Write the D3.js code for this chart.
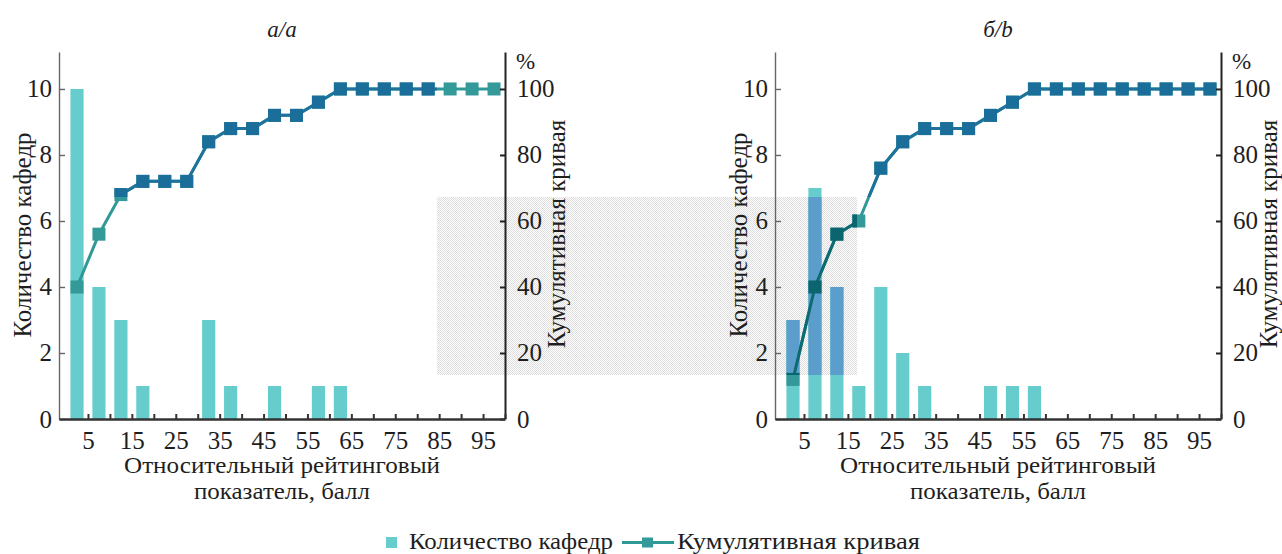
<!DOCTYPE html>
<html>
<head>
<meta charset="utf-8">
<script src="https://cdn.jsdelivr.net/npm/d3@7"></script>
<style>
  body { margin: 0; background: #fff; }
  svg { display: block; }
  text { font-family: "Liberation Serif", serif; fill: #1e1e1e; }
</style>
</head>
<body>
<svg id="chart" width="1282" height="554"></svg>
<script>
// rating bins (centres, 5-point wide) and axis ticks
const bins = [2.5, 7.5, 12.5, 17.5, 22.5, 27.5, 32.5, 37.5, 42.5, 47.5,
              52.5, 57.5, 62.5, 67.5, 72.5, 77.5, 82.5, 87.5, 92.5, 97.5];
const xTicks = [5, 10, 15, 20, 25, 30, 35, 40, 45, 50, 55, 60, 65, 70, 75, 80, 85, 90, 95, 100];
const xLabels = [5, 15, 25, 35, 45, 55, 65, 75, 85, 95];
const countTicks = [0, 2, 4, 6, 8, 10];
const pctTicks = [0, 20, 40, 60, 80, 100];

// panel a
const countsA = [10, 4, 3, 1, 0, 0, 3, 1, 0, 1, 0, 1, 1, 0, 0, 0, 0, 0, 0, 0];
const cumulA  = [40, 56, 68, 72, 72, 72, 84, 88, 88, 92, 92, 96, 100, 100, 100, 100, 100, 100, 100, 100];
// panel b
const countsB = [3, 7, 4, 1, 4, 2, 1, 0, 0, 1, 1, 1, 0, 0, 0, 0, 0, 0, 0, 0];
const cumulB  = [12, 40, 56, 60, 76, 84, 88, 88, 88, 92, 96, 100, 100, 100, 100, 100, 100, 100, 100, 100];

const titles = ["а/a", "б/b"];
const yTitle = "Количество кафедр";
const y2Title = "Кумулятивная кривая";
const xTitle = ["Относительный рейтинговый", "показатель, балл"];

const svg = d3.select("#chart");
const FONT = "Liberation Serif";

// the scan has a selection tint over part of the page
const defs = svg.append("defs");
const pat = defs.append("pattern").attr("id", "dots")
  .attr("width", 2).attr("height", 2).attr("patternUnits", "userSpaceOnUse");
pat.append("rect").attr("width", 2).attr("height", 2).attr("fill", "#fff");
pat.append("rect").attr("width", 1).attr("height", 1).attr("fill", "#dcdcdc");
pat.append("rect").attr("x", 1).attr("y", 1).attr("width", 1).attr("height", 1).attr("fill", "#dcdcdc");

const topCp = defs.append("clipPath").attr("id", "hiTop");
topCp.append("rect").attr("x", 84).attr("y", 0).attr("width", 437 - 84).attr("height", 197);
topCp.append("rect").attr("x", 857).attr("y", 0).attr("width", 1282 - 857).attr("height", 197);
const midCp = defs.append("clipPath").attr("id", "hiMid");
midCp.append("rect").attr("x", 437).attr("y", 197).attr("width", 857 - 437).attr("height", 375 - 197);

svg.append("rect").attr("x", 437).attr("y", 197).attr("width", 857 - 437).attr("height", 375 - 197)
  .attr("fill", "url(#dots)");

const normal = { bar: "#66cccc", line: "#2f9997", mark: "#339999" };
const tintTop = { bar: "#5b9dcb", line: "#1e729c", mark: "#1b6e9a" };
const tintMid = { bar: "#5b9dcb", line: "#0d6a70", mark: "#0b656e" };

function marks(layer, x, y, yp, counts, cumul, c) {
  const bw = 1.5;
  layer.selectAll("rect.bar")
    .data(bins.map((b, j) => ({ b: b, v: counts[j] })).filter(d => d.v > 0))
    .join("rect").attr("class", "bar")
    .attr("x", d => x(d.b - bw))
    .attr("width", d => x(d.b + bw) - x(d.b - bw))
    .attr("y", d => y(d.v))
    .attr("height", d => y(0) - y(d.v))
    .attr("fill", c.bar);

  const line = d3.line().x((d, j) => x(bins[j])).y(d => yp(d));
  layer.append("path").datum(cumul)
    .attr("d", line).attr("fill", "none")
    .attr("stroke", c.line).attr("stroke-width", 3);

  const s = 13;
  layer.selectAll("rect.mk").data(cumul)
    .join("rect").attr("class", "mk")
    .attr("x", (d, j) => x(bins[j]) - s / 2)
    .attr("y", d => yp(d) - s / 2)
    .attr("width", s).attr("height", s)
    .attr("fill", c.mark);
}

function styleAxis(g, size) {
  g.attr("font-family", null).attr("font-size", null);
  g.selectAll("text").attr("font-family", FONT).attr("font-size", size).attr("fill", "#1e1e1e");
}

function panel(i, counts, cumul) {
  const left = [59, 775][i];
  const right = left + 446;
  const x = d3.scaleLinear().domain([-1.6, 100]).range([left, right]);
  const y = d3.scaleLinear().domain([0, 11.12]).range([419, 52]);
  const yp = d3.scaleLinear().domain([0, 111.2]).range([419, 52]);

  marks(svg.append("g"), x, y, yp, counts, cumul, normal);
  marks(svg.append("g").attr("clip-path", "url(#hiTop)"), x, y, yp, counts, cumul, tintTop);
  marks(svg.append("g").attr("clip-path", "url(#hiMid)"), x, y, yp, counts, cumul, tintMid);

  // axes
  const gl = svg.append("g").attr("transform", `translate(${left},0)`)
    .call(d3.axisLeft(y).tickValues(countTicks).tickSizeInner(-6).tickSizeOuter(0).tickPadding(7));
  gl.selectAll("path, line").attr("stroke", "#666").attr("stroke-width", 1.4);
  styleAxis(gl, 25);

  const gr = svg.append("g").attr("transform", `translate(${right},0)`)
    .call(d3.axisRight(yp).tickValues(pctTicks).tickSizeInner(-5).tickSizeOuter(0).tickPadding(12));
  gr.selectAll("path, line").attr("stroke", "#222").attr("stroke-width", 2);
  styleAxis(gr, 25);

  const gb = svg.append("g").attr("transform", "translate(0,419)")
    .call(d3.axisBottom(x).tickValues(xTicks).tickSize(-5).tickSizeOuter(0).tickPadding(12)
      .tickFormat(d => xLabels.includes(d) ? d : ""));
  gb.selectAll("path").attr("stroke", "#333").attr("stroke-width", 2.5);
  gb.selectAll("line").attr("stroke", "#333").attr("stroke-width", 2);
  styleAxis(gb, 25);

  // texts
  const cx = (left + right) / 2;
  svg.append("text").attr("x", cx).attr("y", 37).attr("text-anchor", "middle")
    .attr("font-size", 23).attr("font-style", "italic").text(titles[i]);
  svg.append("text").attr("x", right + 11).attr("y", 69)
    .attr("font-size", 23).text("%");
  svg.append("text").attr("transform", `translate(${left - 37},235) rotate(-90)`)
    .attr("text-anchor", "middle").attr("dy", "0.35em").attr("font-size", 25).text(yTitle);
  svg.append("text").attr("transform", `translate(${right + (i ? 47 : 51)},234) rotate(-90)`)
    .attr("text-anchor", "middle").attr("dy", "0.35em").attr("font-size", 25).text(y2Title);
  svg.append("text").attr("x", cx).attr("y", 473).attr("text-anchor", "middle")
    .attr("font-size", 22.5).attr("textLength", 316).attr("lengthAdjust", "spacingAndGlyphs")
    .text(xTitle[0]);
  svg.append("text").attr("x", cx).attr("y", 499).attr("text-anchor", "middle")
    .attr("font-size", 22.5).attr("textLength", 176).attr("lengthAdjust", "spacingAndGlyphs")
    .text(xTitle[1]);
}

panel(0, countsA, cumulA);
panel(1, countsB, cumulB);

// legend
const lg = svg.append("g");
lg.append("rect").attr("x", 386).attr("y", 537).attr("width", 11).attr("height", 11).attr("fill", normal.bar);
lg.append("text").attr("x", 409).attr("y", 549).attr("font-size", 23)
  .attr("textLength", 204).attr("lengthAdjust", "spacingAndGlyphs").text(yTitle);
lg.append("line").attr("x1", 622).attr("x2", 674).attr("y1", 542.5).attr("y2", 542.5)
  .attr("stroke", normal.line).attr("stroke-width", 3);
lg.append("rect").attr("x", 642).attr("y", 537.5).attr("width", 11).attr("height", 10).attr("fill", normal.mark);
lg.append("text").attr("x", 677).attr("y", 549).attr("font-size", 23)
  .attr("textLength", 243).attr("lengthAdjust", "spacingAndGlyphs").text(y2Title);
</script>
</body>
</html>
